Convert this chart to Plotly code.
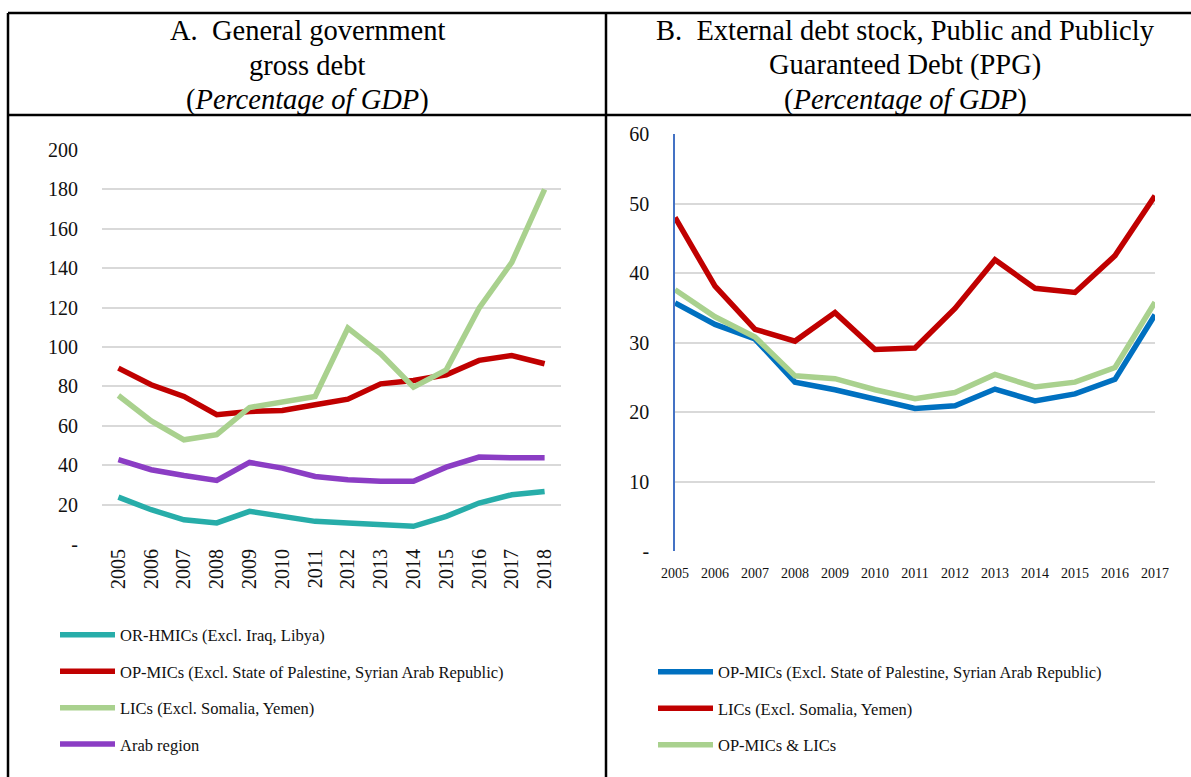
import plotly.graph_objects as go

# ---------------- data ----------------
years_a = ["2005", "2006", "2007", "2008", "2009", "2010", "2011",
           "2012", "2013", "2014", "2015", "2016", "2017", "2018"]
or_hmics = [23.8, 17.4, 12.3, 10.7, 16.6, 13.7, 11.5, 10.7, 9.8, 9.0, 14.0, 20.8, 25.0, 26.7]
op_mics_a = [89.3, 80.8, 74.9, 65.6, 67.3, 67.8, 70.7, 73.5, 81.3, 83.0, 85.9, 93.2, 95.7, 91.5]
lics_a = [75.4, 62.5, 52.9, 55.5, 69.3, 72.4, 74.9, 109.6, 96.5, 79.6, 88.4, 119.7, 143.0, 180.0]
arab_region = [42.8, 37.7, 34.8, 32.3, 41.4, 38.5, 34.3, 32.6, 31.8, 31.8, 39.0, 44.1, 43.8, 43.8]

years_b = ["2005", "2006", "2007", "2008", "2009", "2010", "2011",
           "2012", "2013", "2014", "2015", "2016", "2017"]
op_mics_b = [35.7, 32.6, 30.5, 24.3, 23.2, 21.9, 20.5, 20.9, 23.3, 21.6, 22.6, 24.7, 34.0]
lics_b = [48.0, 38.1, 31.9, 30.2, 34.3, 29.0, 29.2, 34.9, 41.9, 37.8, 37.2, 42.5, 51.1]
op_mics_lics = [37.6, 33.7, 30.8, 25.2, 24.8, 23.2, 21.9, 22.8, 25.4, 23.6, 24.3, 26.4, 35.8]

ticks_a = [0, 20, 40, 60, 80, 100, 120, 140, 160, 180, 200]
ticklabels_a = ["-"] + [str(v) for v in ticks_a[1:]]
ticks_b = [0, 10, 20, 30, 40, 50, 60]
ticklabels_b = ["-"] + [str(v) for v in ticks_b[1:]]

names_a = ["OR-HMICs (Excl. Iraq, Libya)",
           "OP-MICs (Excl. State of Palestine, Syrian Arab Republic)",
           "LICs (Excl. Somalia, Yemen)",
           "Arab region"]
names_b = ["OP-MICs (Excl. State of Palestine, Syrian Arab Republic)",
           "LICs (Excl. Somalia, Yemen)",
           "OP-MICs & LICs"]

# ---------------- style ----------------
W, H = 1191, 777
FONT = "Liberation Serif"
TXT = "#111111"
TEAL, RED, LGREEN, PURPLE, BLUE = "#27ADA9", "#C00000", "#A9D18E", "#8B3DC4", "#0070C0"
GRID = "#D9D9D9"
LW = 5.5


def px(x):
    return x / W


def py(y):
    return 1 - y / H


fig = go.Figure()

series_a = [(or_hmics, TEAL), (op_mics_a, RED), (lics_a, LGREEN), (arab_region, PURPLE)]
for i, ((vals, col), nm) in enumerate(zip(series_a, names_a)):
    fig.add_trace(go.Scatter(x=list(range(len(years_a))), y=vals, mode="lines", name=nm,
                             line=dict(color=col, width=LW), xaxis="x", yaxis="y",
                             legend="legend", legendgroup="a%d" % i))

series_b = [(op_mics_b, BLUE), (lics_b, RED), (op_mics_lics, LGREEN)]
for i, ((vals, col), nm) in enumerate(zip(series_b, names_b)):
    fig.add_trace(go.Scatter(x=list(range(len(years_b))), y=vals, mode="lines", name=nm,
                             line=dict(color=col, width=LW), xaxis="x2", yaxis="y2",
                             legend="legend2", legendgroup="b%d" % i))

# panel geometry (pixels)
A_L, A_R, A_T, A_B = 102, 561, 150, 544
B_L, B_R, B_T, B_B = 675, 1155, 134, 551

fig.update_layout(
    width=W, height=H, margin=dict(l=0, r=0, t=0, b=0, autoexpand=False),
    paper_bgcolor="white", plot_bgcolor="white",
    font=dict(family=FONT, color=TXT),
    xaxis=dict(domain=[px(A_L), px(A_R)], range=[-0.5, len(years_a) - 0.5],
               tickmode="array", tickvals=list(range(len(years_a))), ticktext=years_a,
               tickangle=-90, tickfont=dict(size=20, family=FONT, color=TXT),
               showgrid=False, zeroline=False, showline=False, ticks="", anchor="y",
               automargin=False),
    yaxis=dict(domain=[py(A_B), py(A_T)], range=[0, 200], tickmode="array",
               tickvals=ticks_a, ticktext=ticklabels_a,
               tickfont=dict(size=20, family=FONT, color=TXT),
               showgrid=True, gridcolor=GRID, gridwidth=1.5, zeroline=False,
               showline=False, ticks="", anchor="x", ticklabelstandoff=23,
               automargin=False),
    xaxis2=dict(domain=[px(B_L), px(B_R)], range=[0, len(years_b) - 1],
                tickmode="array", tickvals=list(range(len(years_b))), ticktext=years_b,
                tickangle=0, tickfont=dict(size=14, family=FONT, color=TXT),
                showgrid=False, zeroline=False, showline=False, ticks="", anchor="y2",
                ticklabelstandoff=12, automargin=False),
    yaxis2=dict(domain=[py(B_B), py(B_T)], range=[0, 60], tickmode="array",
                tickvals=ticks_b, ticktext=ticklabels_b,
                tickfont=dict(size=20, family=FONT, color=TXT),
                showgrid=True, gridcolor=GRID, gridwidth=1.5, zeroline=False,
                showline=True, linecolor="#4472C4", linewidth=1.5,
                ticks="", anchor="x2", ticklabelstandoff=20, automargin=False),
    legend=dict(x=px(55), y=py(617.5), xanchor="left", yanchor="top",
                font=dict(size=16.5, family=FONT, color=TXT),
                tracegroupgap=12, itemwidth=55, bgcolor="rgba(0,0,0,0)",
                traceorder="grouped"),
    legend2=dict(x=px(653), y=py(654.5), xanchor="left", yanchor="top",
                 font=dict(size=16.5, family=FONT, color=TXT),
                 tracegroupgap=12, itemwidth=55, bgcolor="rgba(0,0,0,0)",
                 traceorder="grouped"),
    showlegend=True,
)

# table borders
BORDER = dict(color="black", width=2.5)
shapes = [
    dict(type="line", xref="paper", yref="paper", x0=px(8), x1=px(8), y0=py(13), y1=py(790), line=BORDER),
    dict(type="line", xref="paper", yref="paper", x0=px(8), x1=px(1200), y0=py(13), y1=py(13), line=BORDER),
    dict(type="line", xref="paper", yref="paper", x0=px(8), x1=px(1200), y0=py(115), y1=py(115), line=BORDER),
    dict(type="line", xref="paper", yref="paper", x0=px(606), x1=px(606), y0=py(13), y1=py(790), line=BORDER),
]
fig.update_layout(shapes=shapes)

# panel titles
title_a = ["A.  General government", "gross debt", "(<i>Percentage of GDP</i>)"]
title_b = ["B.  External debt stock, Public and Publicly", "Guaranteed Debt (PPG)",
           "(<i>Percentage of GDP</i>)"]
line_y = [30, 65, 100]
for txt, yy in zip(title_a, line_y):
    fig.add_annotation(text=txt, x=px(307), y=py(yy), xref="paper", yref="paper",
                       showarrow=False, xanchor="center", yanchor="middle",
                       font=dict(size=28.5, family=FONT, color="black"))
for txt, yy in zip(title_b, line_y):
    fig.add_annotation(text=txt, x=px(905), y=py(yy), xref="paper", yref="paper",
                       showarrow=False, xanchor="center", yanchor="middle",
                       font=dict(size=28.5, family=FONT, color="black"))

fig.write_html(
    "out.html",
    config={"displayModeBar": False},
    post_script="document.body.style.margin='0';document.body.style.padding='0';"
                "document.documentElement.style.overflow='hidden';"
                "document.body.style.overflow='hidden';",
)
